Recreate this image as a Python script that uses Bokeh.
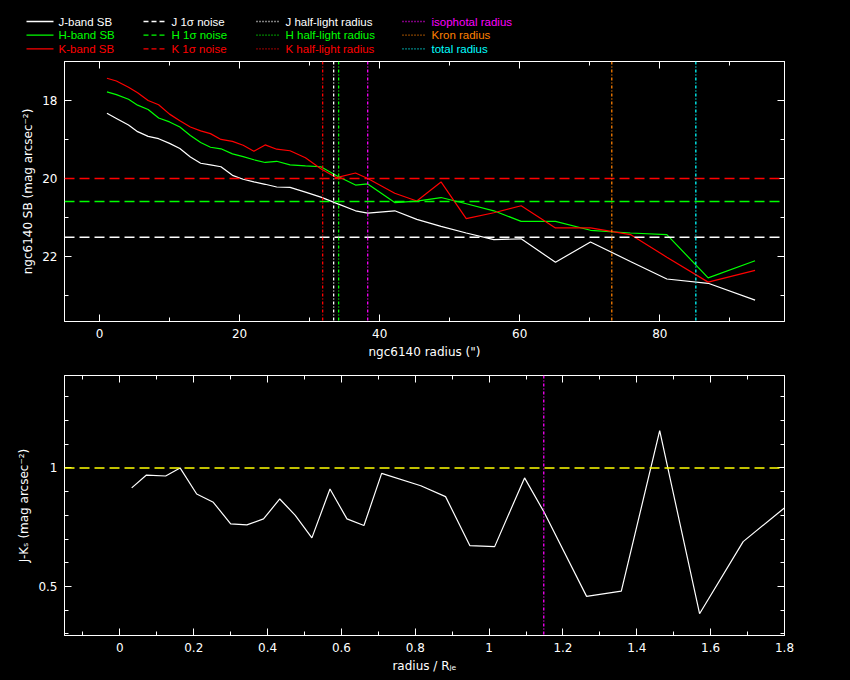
from bokeh.plotting import figure
from bokeh.models import Range1d, LinearAxis, FixedTicker, Span, ColumnDataSource
from bokeh.layouts import column, row
from bokeh.embed import file_html
from bokeh.resources import INLINE
from bokeh.core.properties import value

FONT = "DejaVu Sans"
LEG_FONT = "Liberation Sans"

# ---------------- data ----------------
radius = [1.06, 2.41, 4.14, 5.44, 6.94, 8.44, 10.0, 11.47, 12.97, 14.44, 15.84, 17.34,
          18.98, 20.51, 22.04, 23.65, 25.3, 27.2, 29.4, 31.6, 33.85, 36.55, 38.3, 42.15,
          45.3, 48.76, 52.36, 56.3, 60.2, 65.1, 70.1, 75.8, 81.0, 86.9, 93.6]
j_sb = [18.33, 18.46, 18.63, 18.80, 18.92, 18.98, 19.10, 19.23, 19.45, 19.61, 19.65, 19.70,
        19.92, 20.02, 20.09, 20.15, 20.22, 20.23, 20.35, 20.48, 20.64, 20.83, 20.89, 20.83,
        21.05, 21.23, 21.40, 21.57, 21.55, 22.15, 21.63, 22.13, 22.58, 22.69, 23.12]
h_sb = [17.78, 17.85, 17.97, 18.12, 18.23, 18.45, 18.55, 18.68, 18.90, 19.08, 19.20, 19.24,
        19.37, 19.44, 19.52, 19.59, 19.56, 19.65, 19.68, 19.70, 19.93, 20.17, 20.14, 20.62,
        20.58, 20.49, 20.65, 20.83, 21.10, 21.10, 21.33, 21.40, 21.44, 22.55, 22.11]
k_sb = [17.43, 17.50, 17.66, 17.80, 18.00, 18.11, 18.35, 18.52, 18.68, 18.78, 18.85, 19.00,
        19.05, 19.15, 19.30, 19.14, 19.25, 19.29, 19.47, 19.75, 19.98, 19.86, 20.00, 20.38,
        20.58, 20.09, 21.03, 20.88, 20.70, 21.27, 21.27, 21.44, 22.02, 22.66, 22.36]

noise_levels = [21.51, 20.59, 20.00]          # J, H, K 1-sigma noise
half_light = [33.43, 34.14, 31.86]            # J, H, K half-light radius
other_radii = [38.29, 73.14, 85.14]           # isophotal, Kron, total

radius_re = [0.032, 0.072, 0.124, 0.163, 0.208, 0.253, 0.300, 0.344, 0.389, 0.433, 0.475,
             0.520, 0.569, 0.615, 0.661, 0.709, 0.815, 0.882, 0.948, 1.015, 1.096, 1.149,
             1.264, 1.358, 1.462, 1.570, 1.688, 1.805, 1.952]
j_minus_k = [0.916, 0.970, 0.966, 1.000, 0.890, 0.855, 0.764, 0.760, 0.785, 0.869, 0.800,
             0.705, 0.911, 0.785, 0.757, 0.977, 0.925, 0.879, 0.672, 0.668, 0.958, 0.813,
             0.458, 0.480, 1.157, 0.385, 0.689, 0.838, 0.880]
jk_reference = 1.0
iso_radius_re = 1.148

top_xticks = [0, 20, 40, 60, 80]
top_xminor = [10, 30, 50, 70, 90]
top_yticks = [18, 20, 22]
top_yminor = [17, 19, 21, 23]
bot_xticks = [0, 0.2, 0.4, 0.6, 0.8, 1, 1.2, 1.4, 1.6, 1.8]
bot_xlabels = ["0", "0.2", "0.4", "0.6", "0.8", "1", "1.2", "1.4", "1.6", "1.8"]
bot_xminor = [-0.1, 0.1, 0.3, 0.5, 0.7, 0.9, 1.1, 1.3, 1.5, 1.7]
bot_yticks = [0.5, 1]
bot_ylabels = ["0.5", "1"]
bot_yminor = [0.3, 0.4, 0.6, 0.7, 0.8, 0.9, 1.1, 1.2, 1.3]

WHITE, GREEN, RED = "#ffffff", "#00ff00", "#ff0000"
MAGENTA, ORANGE, CYAN, YELLOW = "#ff00ff", "#ff8000", "#00ffff", "#ffff00"
band_colors = [WHITE, GREEN, RED]
other_colors = [MAGENTA, ORANGE, CYAN]

legend_labels = [["J-band SB", "H-band SB", "K-band SB"],
                 ["J 1\u03c3 noise", "H 1\u03c3 noise", "K 1\u03c3 noise"],
                 ["J half-light radius", "H half-light radius", "K half-light radius"],
                 ["isophotal radius", "Kron radius", "total radius"]]
legend_colors = [band_colors, band_colors, band_colors, other_colors]
legend_styles = ["solid", "dashed", "dotted", "dotted"]

DASH = "10 5"
DOT = "3 2 1 2"

# layout constants (pixels)
PAGE_W = 850
BORDER_L, BORDER_R = 64, 66
LEG_H = 56
TOP_BORDER_T, FRAME_H, TOP_BORDER_B = 5, 260, 40
BOT_BORDER_T, BOT_BORDER_B = 14, 45
leg_col_x = [26, 143, 256, 402]       # page x where each legend column's sample starts
leg_col_len = [27, 23, 24, 24]
leg_row_y = [21.0, 34.7, 48.3]       # page y of each legend row (baseline)


def make_fig(xr, yr, top, bottom):
    p = figure(width=PAGE_W, height=top + FRAME_H + bottom,
               x_range=xr, y_range=yr, toolbar_location=None, tools="",
               output_backend="svg", background_fill_color="black",
               border_fill_color="black", outline_line_color="white",
               min_border_left=BORDER_L, min_border_right=BORDER_R,
               min_border_top=top, min_border_bottom=bottom)
    p.xgrid.visible = False
    p.ygrid.visible = False
    p.add_layout(LinearAxis(), "above")
    p.add_layout(LinearAxis(), "right")
    return p


def style_axis(ax, ticks, minor, show_labels, label="", overrides=None):
    ax.ticker = FixedTicker(ticks=ticks, minor_ticks=minor)
    ax.axis_line_color = "white"
    ax.major_tick_line_color = "white"
    ax.minor_tick_line_color = "white"
    ax.major_tick_in = 7
    ax.major_tick_out = 0
    ax.minor_tick_in = 4
    ax.minor_tick_out = 0
    ax.major_label_text_color = "white"
    ax.major_label_text_font = FONT
    ax.axis_label_text_color = "white"
    ax.axis_label_text_font = FONT
    ax.axis_label_text_font_style = "normal"
    ax.axis_label_text_font_size = "12px"
    if show_labels:
        ax.major_label_text_font_size = "12px"
        ax.major_label_standoff = 7
        ax.axis_label = label
        ax.axis_label_standoff = 4
        if overrides:
            ax.major_label_overrides = overrides
    else:
        ax.major_label_text_font_size = "0px"
        ax.major_label_standoff = 0
        ax.major_label_text_alpha = 0


def style_all(p, xt, xm, yt, ym, xlabel, ylabel, xo=None, yo=None):
    style_axis(p.below[0], xt, xm, True, xlabel, xo)
    style_axis(p.above[0], xt, xm, False)
    style_axis(p.left[0], yt, ym, True, ylabel, yo)
    style_axis(p.right[0], yt, ym, False)


# ---------------- legend strip (its own figure, page-pixel coordinates) ----------------
leg = figure(width=PAGE_W, height=LEG_H, x_range=Range1d(0, PAGE_W),
             y_range=Range1d(LEG_H, 0), toolbar_location=None, tools="",
             output_backend="svg", x_axis_type=None, y_axis_type=None,
             background_fill_color="black", border_fill_color="black",
             outline_line_color=None, min_border=0)
leg.xgrid.visible = False
leg.ygrid.visible = False
seg = {s: dict(x0=[], x1=[], y=[], c=[]) for s in ("solid", "dashed", "dotted")}
tx, ty, tt, tc = [], [], [], []
for ci in range(4):
    for ri in range(3):
        d = seg[legend_styles[ci]]
        d["x0"].append(leg_col_x[ci])
        d["x1"].append(leg_col_x[ci] + leg_col_len[ci])
        d["y"].append(leg_row_y[ri])
        d["c"].append(legend_colors[ci][ri])
        tx.append(leg_col_x[ci] + leg_col_len[ci] + 5)
        ty.append(leg_row_y[ri])
        tt.append(legend_labels[ci][ri])
        tc.append(legend_colors[ci][ri])
dash_map = {"solid": "solid", "dashed": "5 3", "dotted": "1 2"}
for style, d in seg.items():
    src = ColumnDataSource(dict(x0=d["x0"], x1=d["x1"], y0=d["y"], y1=d["y"], c=d["c"]))
    leg.segment(x0="x0", y0="y0", x1="x1", y1="y1", color="c", line_width=1.3,
                line_dash=dash_map[style], source=src)
leg.text(x=tx, y=ty, text=tt, text_color=tc, text_font=value(LEG_FONT),
         text_font_size=value("11.5px"), text_baseline="alphabetic", text_align="left")

# ---------------- top panel ----------------
top = make_fig(Range1d(-5, 97.8), Range1d(23.67, 17.0), TOP_BORDER_T, TOP_BORDER_B)
style_all(top, top_xticks, top_xminor, top_yticks, top_yminor,
          "ngc6140 radius (\")", "ngc6140 SB (mag arcsec\u207b\u00b2)")
for lvl, c in zip(noise_levels, band_colors):
    top.add_layout(Span(location=lvl, dimension="width", line_color=c,
                        line_dash=DASH, line_width=1.4))
for r, c in zip(half_light, band_colors):
    top.add_layout(Span(location=r, dimension="height", line_color=c,
                        line_dash=DOT, line_width=1.3))
for r, c in zip(other_radii, other_colors):
    top.add_layout(Span(location=r, dimension="height", line_color=c,
                        line_dash=DOT, line_width=1.3))
top.line(radius, j_sb, line_color=WHITE, line_width=1.2)
top.line(radius, h_sb, line_color=GREEN, line_width=1.2)
top.line(radius, k_sb, line_color=RED, line_width=1.2)

# ---------------- bottom panel ----------------
bot = make_fig(Range1d(-0.15, 1.8), Range1d(0.293, 1.39), BOT_BORDER_T, BOT_BORDER_B)
style_all(bot, bot_xticks, bot_xminor, bot_yticks, bot_yminor,
          "radius / R\u2c7c\u2091", "J-K\u209b (mag arcsec\u207b\u00b2)",
          dict(zip(bot_xticks, bot_xlabels)), dict(zip(bot_yticks, bot_ylabels)))
bot.add_layout(Span(location=jk_reference, dimension="width", line_color=YELLOW,
                    line_dash=DASH, line_width=1.4))
bot.add_layout(Span(location=iso_radius_re, dimension="height", line_color=MAGENTA,
                    line_dash=DOT, line_width=1.3))
bot.line(radius_re, j_minus_k, line_color=WHITE, line_width=1.2)

layout = column(row(leg), column(top, bot, spacing=0), spacing=0)
html = file_html(layout, INLINE, title="ngc6140")
html = html.replace("</head>", "<style>html,body{background:#000000;overflow:hidden;}</style></head>", 1)
open("out.html", "w").write(html)
